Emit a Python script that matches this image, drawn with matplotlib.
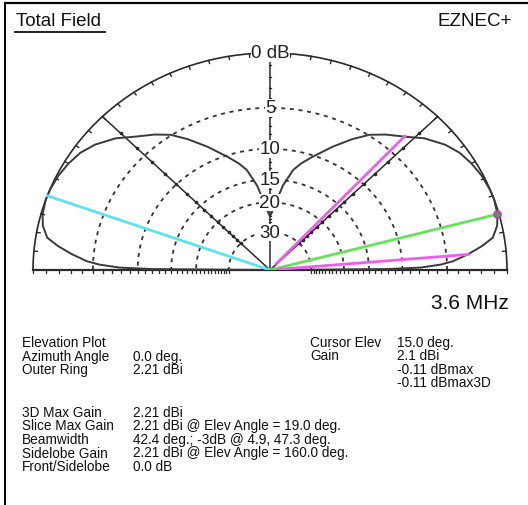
import matplotlib
matplotlib.use('Agg')
import matplotlib.pyplot as plt
import numpy as np

plt.rcParams['font.family'] = ['Liberation Sans', 'DejaVu Sans']

# elevation pattern, right half (deg above horizon, dB relative to outer ring)
elev_right = [0, 0.5, 1, 2, 3, 5, 7, 9, 12, 15, 19, 22, 26, 30, 34, 38, 43,
              47, 52, 56, 60, 65, 71, 75, 78, 82, 85, 88, 90]
gain_right = [-99, -12, -7.8, -5.6, -4.4, -3.0, -1.8, -0.85, -0.35, -0.11, 0.0,
              -0.02, -0.12, -0.32, -0.6, -1.1, -2.0, -3.0, -4.0, -4.9, -6.2,
              -8.0, -10.2, -11.6, -12.9, -16.0, -19.5, -22.5, -24.0]

ring_db = [-5, -10, -15, -20, -30]
ring_labels = ['5', '10', '15', '20', '30']

# cursor / marker lines
cursor_elev, cursor_db = 15.0, -0.11
bw_angles, bw_db = [4.9, 47.3], -3.0
side_angle, side_db = 160.0, 0.0

left_info = [('Elevation Plot', ''), ('Azimuth Angle', '0.0 deg.'),
             ('Outer Ring', '2.21 dBi')]
right_info = [('Cursor Elev', '15.0 deg.'), ('Gain', '2.1 dBi'),
              ('', '-0.11 dBmax'), ('', '-0.11 dBmax3D')]
bottom_info = [('3D Max Gain', '2.21 dBi'),
               ('Slice Max Gain', '2.21 dBi @ Elev Angle = 19.0 deg.'),
               ('Beamwidth', '42.4 deg.; -3dB @ 4.9, 47.3 deg.'),
               ('Sidelobe Gain', '2.21 dBi @ Elev Angle = 160.0 deg.'),
               ('Front/Sidelobe', '0.0 dB')]


def rho(db):
    # ARRL log scale: radius drops by 0.89 every 2 dB
    return 0.89 ** (-np.asarray(db, dtype=float) / 2)


def xy(ang, r):
    a = np.radians(ang)
    return r * np.cos(a), r * np.sin(a)


W, H = 528, 506
fig = plt.figure(figsize=(W / 100, H / 100), dpi=100)
cx, cy, rx, ry = 270, 271, 237, 217
ax = fig.add_axes([(cx - rx) / W, 1 - cy / H, 2 * rx / W, ry / H])
ax.set_xlim(-1, 1)
ax.set_ylim(0, 1)
ax.axis('off')

dark = '#2a2a2a'
th = np.linspace(0, 180, 361)

# outer ring + ticks
ax.plot(*xy(th, 1.0), color=dark, lw=1.2, clip_on=False)
for a in range(5, 180, 5):
    x0, y0 = xy(a, 1.0)
    x1, y1 = xy(a, 0.985)
    ax.plot([x0, x1], [y0, y1], color=dark, lw=1.0)

# dashed rings
for db in ring_db:
    ax.plot(*xy(th, rho(db)), color='#333333', lw=1.3,
            ls=(0, (2.2, 2.6)))

# baseline, vertical axis, 45/135 radials
ax.plot([-1, 1], [0, 0], color=dark, lw=1.6, clip_on=False)
ax.plot([0, 0], [0, 1], color=dark, lw=1.1)
for a in (45, 135):
    ax.plot(*xy(np.array([a, a]), np.array([0, 1.0])), color=dark, lw=1.1)
tick_db = np.arange(0, -31, -1)
for r in rho(tick_db):
    for s in (-1, 1):
        ax.plot([s * r, s * r], [0, -0.012], color=dark, lw=0.9, clip_on=False)
    ax.plot([-0.006, 0.006], [r, r], color=dark, lw=0.9)
for r in rho(np.arange(-2, -31, -2)):
    for a in (45, 135):
        px, py = xy(a, r)
        ax.plot(px, py, 'o', ms=1.6, color=dark)

# pattern (mirror right half to the left)
elev = np.array(elev_right)
gain = np.array(gain_right)
ang_all = np.concatenate([elev, 180 - elev[::-1]])
gain_all = np.concatenate([gain, gain[::-1]])
ax.plot(*xy(ang_all, rho(gain_all)), color='#3a3a3a', lw=1.4, zorder=4)

# cursor lines
ax.plot(*xy(np.array([side_angle] * 2), np.array([0, rho(side_db)])),
        color='#5ee3ee', lw=2.0, zorder=5)
ax.plot(*xy(np.array([cursor_elev] * 2), np.array([0, rho(cursor_db)])),
        color='#66e25a', lw=2.0, zorder=5)
for a in bw_angles:
    ax.plot(*xy(np.array([a, a]), np.array([0.04, rho(bw_db)])),
            color='#ee5eee', lw=2.0, zorder=5)
mx, my = xy(cursor_elev, rho(cursor_db))
ax.plot(mx, my, 'o', ms=5, mfc='#3faa3f', mec='#cc33cc', mew=1.2, zorder=6)

# ring labels
lab_kw = dict(ha='center', va='center', fontsize=13.5, color='#222222',
              zorder=7, bbox=dict(fc='white', ec='none', pad=0.2))
ax.text(0, 1.0, '0 dB', **lab_kw)
for db, t in zip(ring_db, ring_labels):
    ax.text(0, float(rho(db)), t, **lab_kw)


def ftext(x, y, s, **kw):
    fig.text(x / W, 1 - y / H, s, va='center', color='#111111', **kw)


# frame and header
fig.add_artist(plt.Line2D([5 / W, 1], [1 - 3.5 / H] * 2, color='black', lw=1.6))
fig.add_artist(plt.Line2D([5 / W] * 2, [0, 1 - 3.5 / H], color='black', lw=1.4))
ftext(16, 21, 'Total Field', fontsize=13.5)
fig.add_artist(plt.Line2D([15 / W, 105 / W], [1 - 33 / H] * 2, color='#111111', lw=1.3))
ftext(512, 21, 'EZNEC+', fontsize=13.5, ha='right')
ftext(509, 304, '3.6 MHz', fontsize=15, ha='right')

fs = 9.8
for i, (k, v) in enumerate(left_info):
    y = 343 + i * 13.5
    ftext(22, y, k, fontsize=fs)
    ftext(133, y, v, fontsize=fs)
for i, (k, v) in enumerate(right_info):
    y = 343 + i * 13.5
    ftext(310, y, k, fontsize=fs)
    ftext(397, y, v, fontsize=fs)
for i, (k, v) in enumerate(bottom_info):
    y = 413 + i * 13.5
    ftext(22, y, k, fontsize=fs)
    ftext(133, y, v, fontsize=fs)

fig.savefig('out.png', dpi=100, facecolor='white')
